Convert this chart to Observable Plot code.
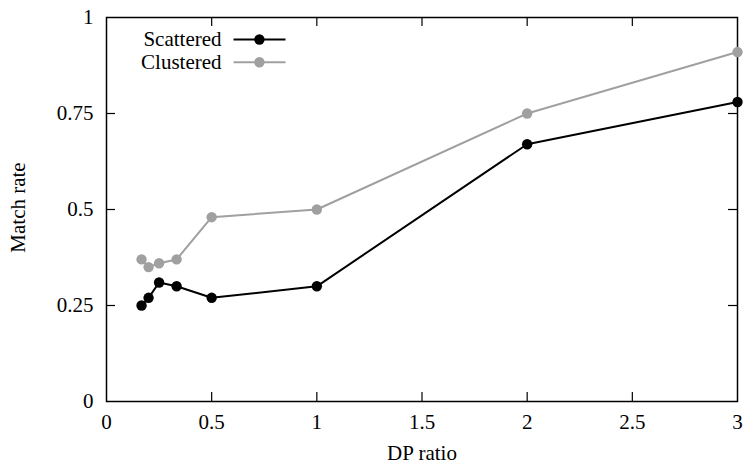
<!DOCTYPE html>
<html><head><meta charset="utf-8">
<script src="https://cdn.jsdelivr.net/npm/d3@7"></script>
<script src="https://cdn.jsdelivr.net/npm/@observablehq/plot@0.6"></script>
<style>body{margin:0;background:#fff}</style>
</head><body><div id="chart"></div>
<script>
const dpRatio = [1/6, 0.2, 0.25, 1/3, 0.5, 1, 2, 3];
const scattered = [0.25, 0.27, 0.31, 0.30, 0.27, 0.30, 0.67, 0.78];
const clustered = [0.37, 0.35, 0.36, 0.37, 0.48, 0.50, 0.75, 0.91];
const seriesNames = ["Scattered", "Clustered"];
const seriesColors = ["#000000", "#a0a0a0"];
const xTicks = [0, 0.5, 1, 1.5, 2, 2.5, 3];
const yTicks = [0, 0.25, 0.5, 0.75, 1];
const xTickLabels = ["0", "0.5", "1", "1.5", "2", "2.5", "3"];
const yTickLabels = ["0", "0.25", "0.5", "0.75", "1"];
const xLabel = "DP ratio";
const yLabel = "Match rate";

const rows = [];
dpRatio.forEach((x, i) => rows.push({x, y: scattered[i], s: seriesNames[0]}));
dpRatio.forEach((x, i) => rows.push({x, y: clustered[i], s: seriesNames[1]}));

const W = 743, H = 467;
const mL = 106, mR = 6, mT = 17, mB = 66;
const FS = 21;
const tickPx = 9;
const yTickLen = tickPx / (H - mT - mB);
const xTickLen = tickPx * 3 / (W - mL - mR);

const legendItems = seriesNames.map((name, i) => ({
  name, color: seriesColors[i],
  y: 0.9426 - i * 0.0592
}));

const plot = Plot.plot({
  width: W, height: H,
  marginLeft: mL, marginRight: mR, marginTop: mT, marginBottom: mB,
  style: {fontFamily: "'Liberation Serif', 'Times New Roman', serif", fontSize: FS + "px", background: "#fff", color: "#000"},
  x: {domain: [0, 3]},
  y: {domain: [0, 1]},
  color: {domain: seriesNames, range: seriesColors},
  marks: [
    Plot.frame({stroke: "#000", strokeWidth: 1.5}),
    Plot.axisX(xTicks, {tickSize: 0, tickPadding: 13, tickFormat: d => xTickLabels[xTicks.indexOf(d)], label: null, fontSize: FS}),
    Plot.axisY(yTicks, {tickSize: 0, tickPadding: 13, tickFormat: d => yTickLabels[yTicks.indexOf(d)], label: null, fontSize: FS}),
    Plot.ruleX(xTicks.slice(1, -1), {x: d => d, y1: 0, y2: yTickLen, stroke: "#000", strokeWidth: 1.2}),
    Plot.ruleX(xTicks.slice(1, -1), {x: d => d, y1: 1, y2: 1 - yTickLen, stroke: "#000", strokeWidth: 1.2}),
    Plot.ruleY(yTicks.slice(1, -1), {y: d => d, x1: 0, x2: xTickLen, stroke: "#000", strokeWidth: 1.2}),
    Plot.ruleY(yTicks.slice(1, -1), {y: d => d, x1: 3, x2: 3 - xTickLen, stroke: "#000", strokeWidth: 1.2}),
    Plot.text([xLabel], {frameAnchor: "bottom", dy: 58, text: d => d, fontSize: FS}),
    Plot.text([yLabel], {frameAnchor: "left", textAnchor: "middle", dx: -88, dy: -2, rotate: -90, text: d => d, fontSize: FS}),
    Plot.line(rows, {x: "x", y: "y", z: "s", stroke: "s", strokeWidth: 2}),
    Plot.dot(rows, {x: "x", y: "y", fill: "s", r: 5.2}),
    Plot.text(legendItems, {x: 0.547, y: "y", text: "name", textAnchor: "end", fontSize: FS}),
    Plot.link(legendItems, {x1: 0.604, x2: 0.851, y1: "y", y2: "y", stroke: "color", strokeWidth: 2}),
    Plot.dot(legendItems, {x: 0.727, y: "y", fill: "color", r: 5.2})
  ]
});
document.getElementById("chart").appendChild(plot);
</script>
</body></html>
